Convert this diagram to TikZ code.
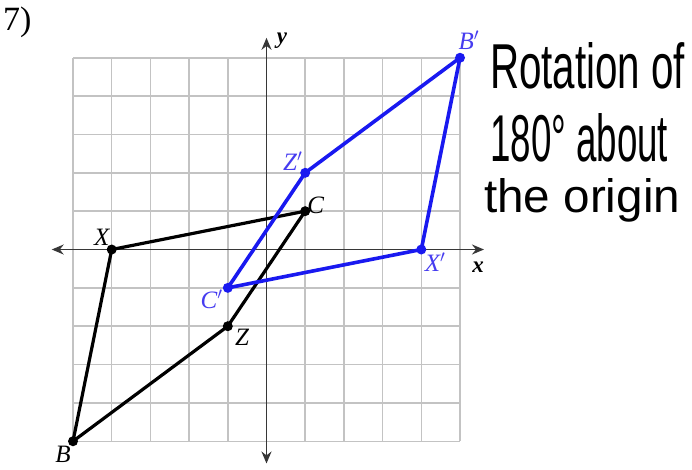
\documentclass[tikz,border=0pt]{standalone}
\usepackage{fontspec}
\setmainfont{Liberation Serif}
\newfontfamily\handfont{Liberation Sans}
\usetikzlibrary{arrows.meta}
\definecolor{gridgray}{RGB}{195,195,195}
\definecolor{axisgray}{RGB}{55,55,55}
\definecolor{imgblue}{RGB}{25,25,240}
\definecolor{lblblue}{RGB}{70,60,240}
\tikzset{
  gridline/.style={draw=gridgray, line width=1.5pt},
  axisline/.style={draw=axisgray, line width=1.7pt, {Stealth[length=12pt,width=10pt]}-{Stealth[length=12pt,width=10pt]}},
  preimg/.style={draw=black, line width=3.2pt, line join=round},
  img/.style={draw=imgblue, line width=3.6pt, line join=round},
  predot/.style={fill=black},
  imgdot/.style={fill=imgblue},
  ptlabel/.style={inner sep=0pt, font=\fontsize{25}{27}\selectfont\itshape},
  axlabel/.style={inner sep=0pt, font=\fontsize{23}{25}\selectfont\bfseries\itshape},
  hand/.style={inner sep=0pt, anchor=base west, font=\handfont\fontsize{52}{56}\selectfont},
}
\begin{document}
\begin{tikzpicture}[x=1pt,y=-1pt]
\useasboundingbox (0,0) rectangle (692,469);
\fill[white] (0,0) rectangle (692,469);
\node[inner sep=0pt, anchor=base west, font=\fontsize{34}{36}\selectfont] (num) at (3,30) {7)};
\begin{scope}[shift={(266.5,249.5)}, x=38.7pt, y=38.35pt]
  % grid
  \foreach \i in {-5,...,5} {
    \draw[gridline] (\i,-5) -- (\i,5);
    \draw[gridline] (-5,\i) -- (5,\i);
  }
  % axes
  \coordinate (xl) at (-5.55,0);
  \coordinate (xr) at (5.62,0);
  \coordinate (yt) at (0,5.52);
  \coordinate (yb) at (0,-5.58);
  \draw[axisline] (xl) -- (xr);
  \draw[axisline] (yb) -- (yt);
  \node[axlabel] (ylab) at (0.4,5.44) {y};
  \node[axlabel] (xlab) at (5.47,-0.46) {x};
  % pre-image
  \coordinate (X) at (-4,0);
  \coordinate (C) at (1,1);
  \coordinate (Z) at (-1,-2);
  \coordinate (B) at (-5,-5);
  \draw[preimg] (X) -- (C) -- (Z) -- (B) -- cycle;
  \foreach \p in {X,C,Z,B} \fill[predot] (\p) circle (5pt);
  % image
  \coordinate (Xp) at (4,0);
  \coordinate (Cp) at (-1,-1);
  \coordinate (Zp) at (1,2);
  \coordinate (Bp) at (5,5);
  \draw[img] (Bp) -- (Zp) -- (Cp) -- (Xp) -- cycle;
  \foreach \p in {Xp,Cp,Zp,Bp} \fill[imgdot] (\p) circle (5pt);
  % labels
  \node[ptlabel] (lX) at (-4.26,0.31) {X};
  \node[ptlabel] (lC) at (1.27,1.16) {C};
  \node[ptlabel] (lZ) at (-0.63,-2.3) {Z};
  \node[ptlabel] (lB) at (-5.26,-5.33) {B};
  \node[ptlabel, text=lblblue] (lXp) at (4.36,-0.33) {X$'$};
  \node[ptlabel, text=lblblue] (lCp) at (-1.42,-1.29) {C$'$};
  \node[ptlabel, text=lblblue] (lZp) at (0.68,2.31) {Z$'$};
  \node[ptlabel, text=lblblue] (lBp) at (5.23,5.46) {B$'$};
\end{scope}
% handwritten note
\node[hand] (h1) at (490,88) {\resizebox{195pt}{46pt}{Rotation of}};
\node[hand] (h2) at (490,161) {\resizebox{178pt}{48pt}{180° about}};
\node[hand] (h3) at (484,212) {\resizebox{196pt}{34pt}{the origin}};
\end{tikzpicture}
\end{document}
